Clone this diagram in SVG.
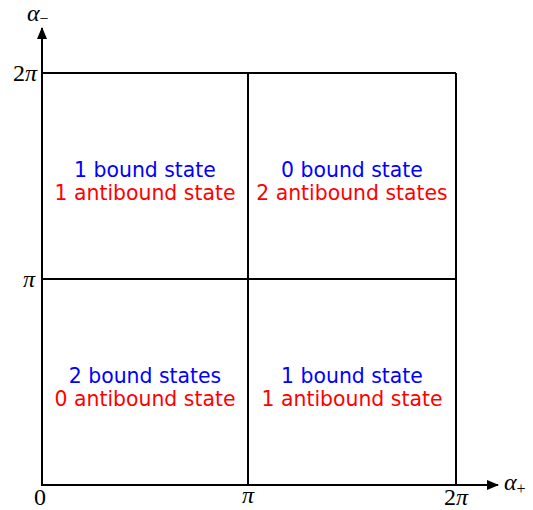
<svg xmlns="http://www.w3.org/2000/svg" width="533" height="510" viewBox="0 0 533 510">
<style>
.ln{stroke:#000;stroke-width:2;fill:none}
.t{font-family:"DejaVu Sans",sans-serif;font-size:20.4px;text-anchor:middle}
.b{fill:#0000ff}
.r{fill:#ff0000}
.m{font-family:"Liberation Serif",serif;font-size:24px;fill:#000}
.i{font-style:italic}
</style>
<defs>
<marker id="ar" viewBox="0 0 12 10" refX="11" refY="5" markerWidth="12" markerHeight="10" markerUnits="userSpaceOnUse" orient="auto">
<path d="M0,0 L12,5 L0,10 Z" fill="#000"/>
</marker>
</defs>
<g id="connectors">
<line class="ln" x1="42" y1="486" x2="42" y2="28" marker-end="url(#ar)"/>
<line class="ln" x1="41" y1="485" x2="498" y2="485" marker-end="url(#ar)"/>
<line class="ln" x1="42" y1="73" x2="456" y2="73"/>
<line class="ln" x1="42" y1="279" x2="456" y2="279"/>
<line class="ln" x1="248" y1="73" x2="248" y2="485"/>
<line class="ln" x1="456" y1="73" x2="456" y2="485"/>
</g>
<g id="labels">
<text class="m i" x="27" y="21">α<tspan font-size="16" dy="3" font-style="normal">−</tspan></text>
<text class="m" x="37" y="81" text-anchor="end">2<tspan class="i">π</tspan></text>
<text class="m i" x="35" y="287" text-anchor="end">π</text>
<text class="m" x="40" y="505" text-anchor="middle">0</text>
<text class="m i" x="248" y="503" text-anchor="middle">π</text>
<text class="m" x="456" y="505" text-anchor="middle">2<tspan class="i">π</tspan></text>
<text class="m i" x="504" y="490">α<tspan font-size="16" dy="4" font-style="normal">+</tspan></text>
</g>
<g id="q1">
<text class="t b" x="145" y="177">1 bound state</text>
<text class="t r" x="145" y="200">1 antibound state</text>
</g>
<g id="q2">
<text class="t b" x="352" y="177">0 bound state</text>
<text class="t r" x="352" y="200">2 antibound states</text>
</g>
<g id="q3">
<text class="t b" x="145" y="383">2 bound states</text>
<text class="t r" x="145" y="406">0 antibound state</text>
</g>
<g id="q4">
<text class="t b" x="352" y="383">1 bound state</text>
<text class="t r" x="352" y="406">1 antibound state</text>
</g>
</svg>
